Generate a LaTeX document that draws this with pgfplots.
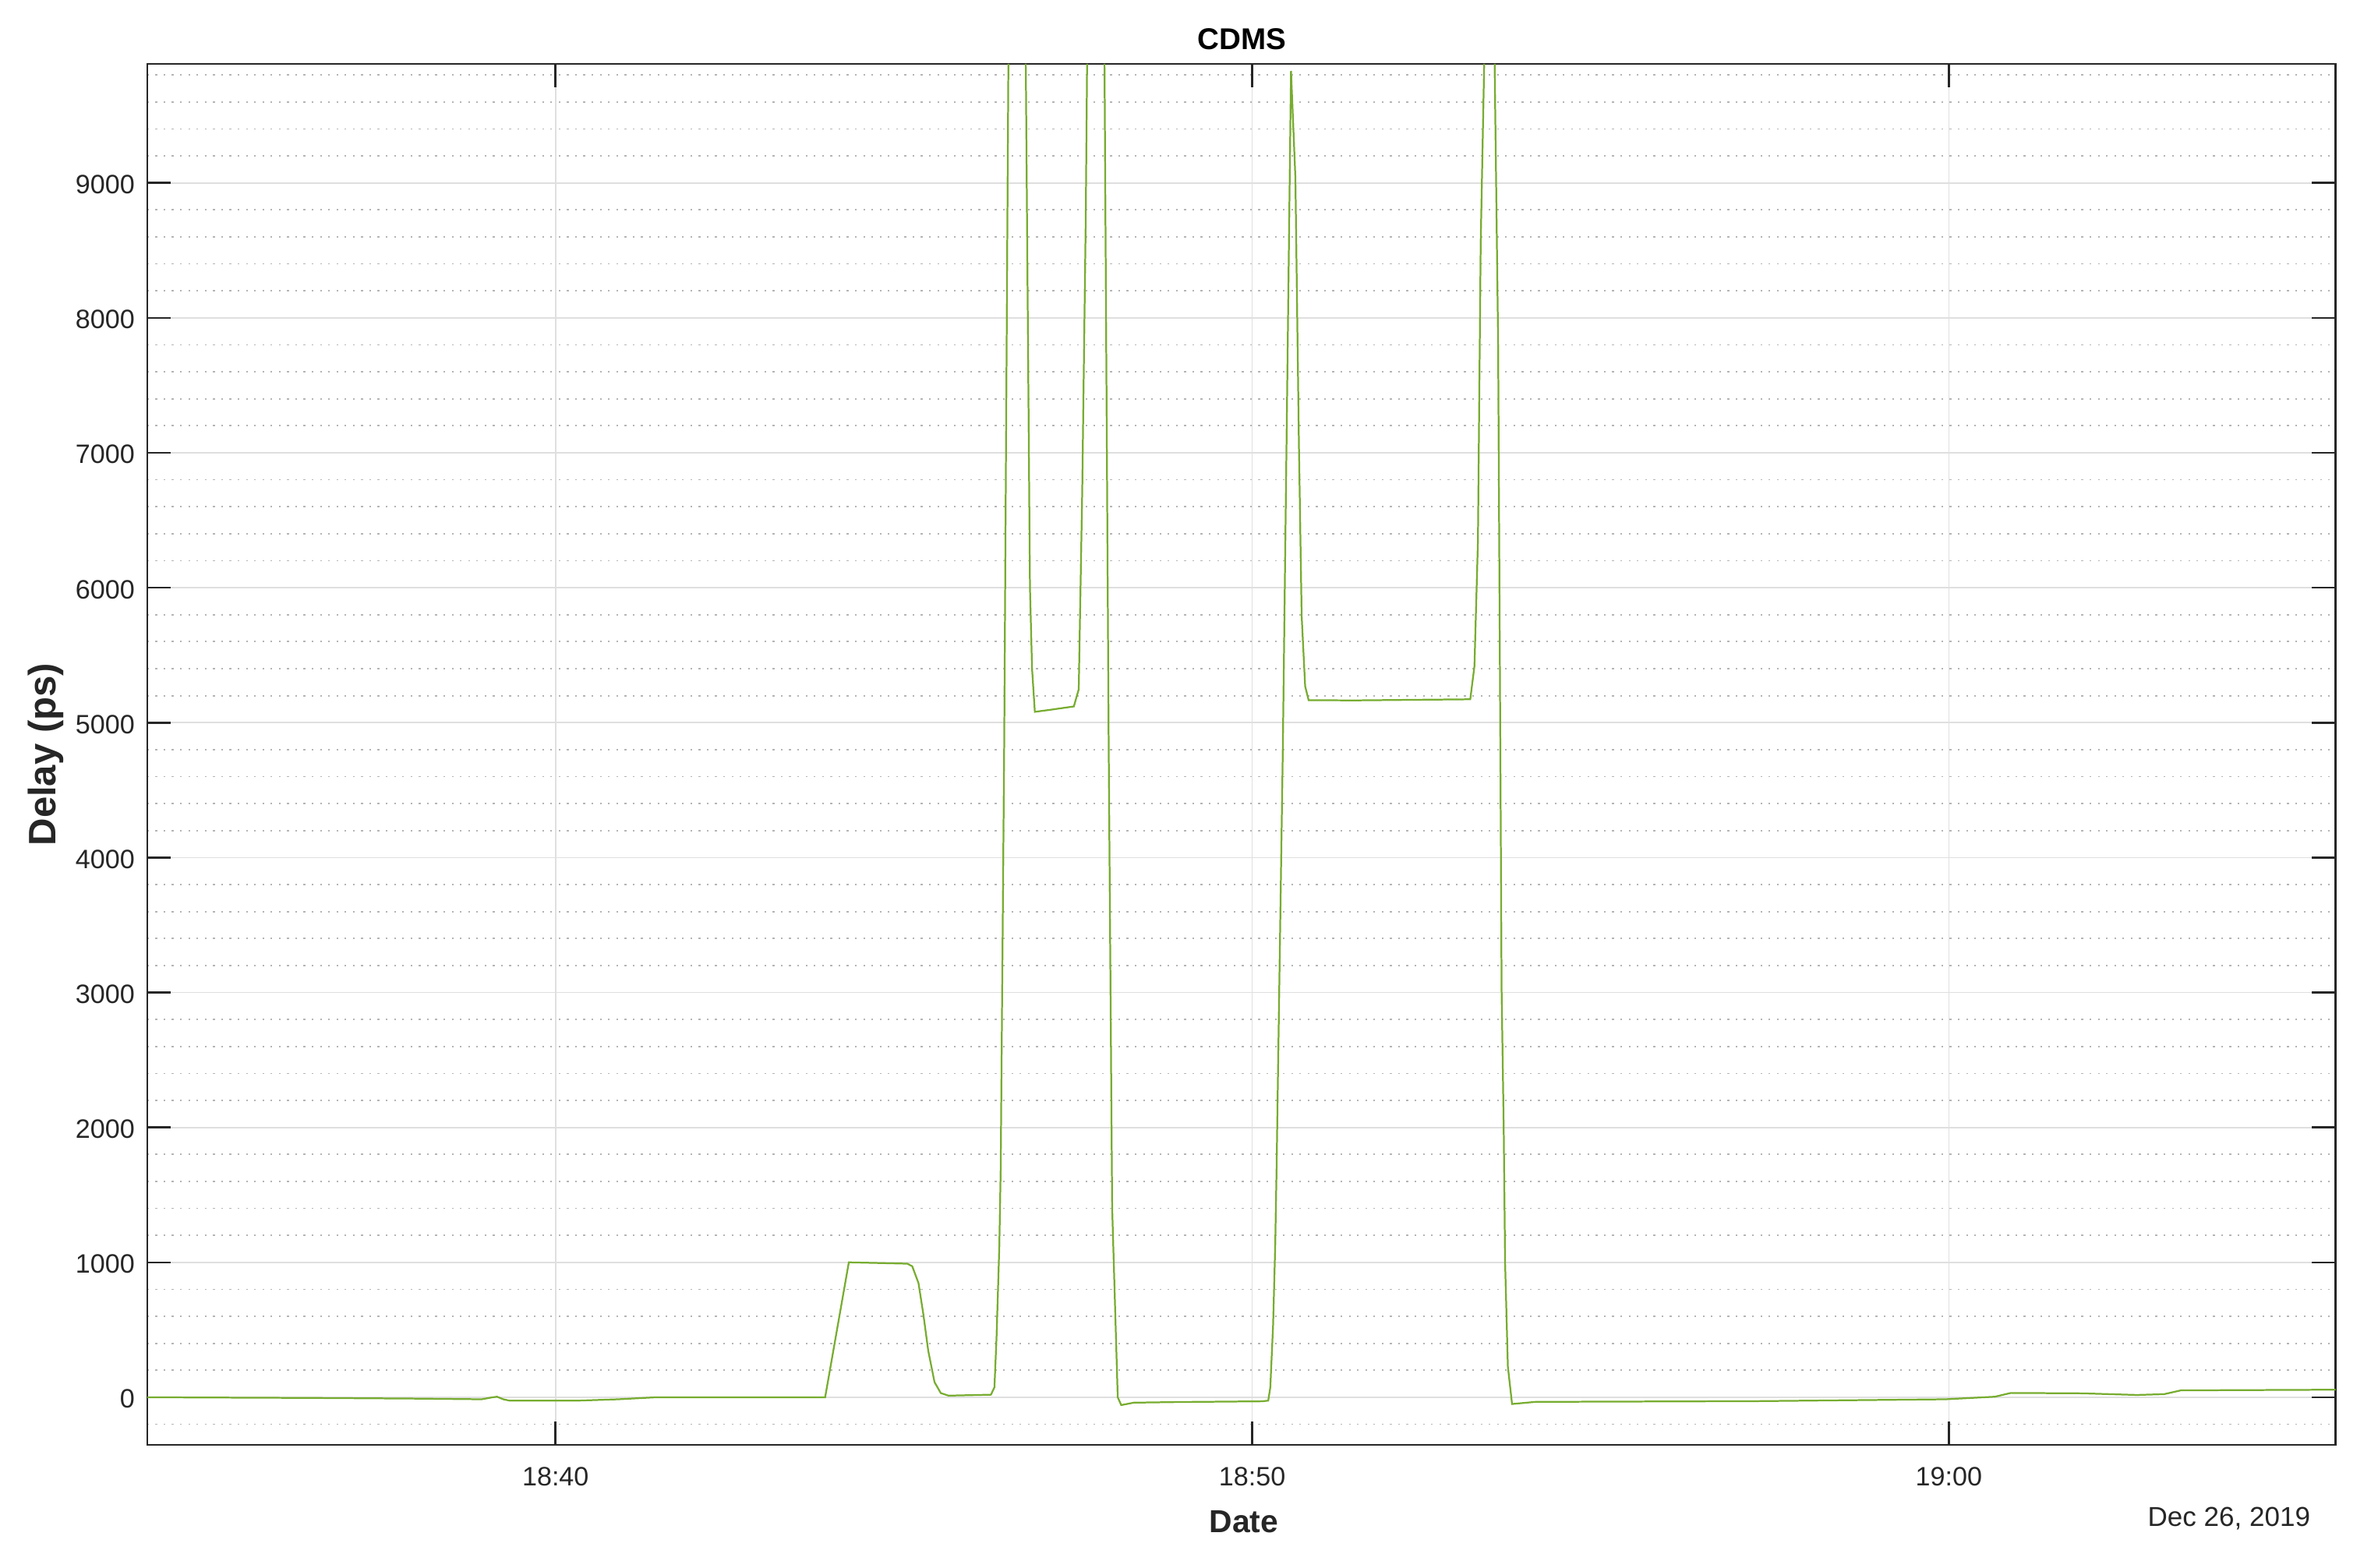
\documentclass[border=0pt]{standalone}
\usepackage{fontspec}
\setmainfont{Liberation Sans}
\usepackage{pgfplots}
\pgfplotsset{compat=1.18}
\definecolor{dline}{RGB}{119,172,48}
\definecolor{axc}{RGB}{38,38,38}
\definecolor{mgrid}{RGB}{223,223,223}
\definecolor{ngrid}{RGB}{180,180,180}
\begin{document}
\begin{tikzpicture}
\path[use as bounding box] (0,0) rectangle (953.44bp,628.44bp);
\begin{axis}[
  at={(59bp,49bp)}, anchor=south west,
  width=877.4bp, height=553.8bp, scale only axis,
  xmin=34.138, xmax=65.55, ymin=-354, ymax=9882,
  xtick={40,50,60}, xticklabels={18:40,18:50,19:00},
  ytick={0,1000,2000,3000,4000,5000,6000,7000,8000,9000},
  yticklabels={0,1000,2000,3000,4000,5000,6000,7000,8000,9000},
  minor ytick={-200,200,400,600,800,1200,1400,1600,1800,2200,2400,2600,2800,3200,3400,3600,3800,4200,4400,4600,4800,5200,5400,5600,5800,6200,6400,6600,6800,7200,7400,7600,7800,8200,8400,8600,8800,9200,9400,9600,9800},
  /pgf/number format/assume math mode=true,
  grid=both,
  major grid style={draw=mgrid, line width=0.55bp},
  minor grid style={draw=ngrid, line width=0.55bp, dash pattern=on 0.7bp off 2.6bp},
  minor tick length=0pt,
  major tick length=9.5bp,
  tick align=inside,
  xtick pos=both, ytick pos=both,
  axis line style={draw=axc, line width=0.8bp},
  tick style={draw=axc, line width=0.8bp},
  xticklabel style={anchor=base, inner sep=0pt, yshift=-16.4bp, text=axc, font=\fontsize{10.7}{12}\selectfont},
  yticklabel style={anchor=east, inner sep=0pt, xshift=-4.8bp, yshift=-0.7bp, text=axc, font=\fontsize{10.7}{12}\selectfont},
  clip=true,
]
\addplot[color=dline, line width=0.7bp, mark=none] coordinates {
(34.10,0) (35.0,-2) (36.5,-5) (38.0,-10) (38.94,-15) (39.10,0) (39.16,4) (39.25,-15) (39.34,-25)
(40.32,-25) (40.9,-15) (41.45,0) (43.87,0)
(44.21,1000) (45.05,990) (45.12,971) (45.21,846) (45.28,614) (45.35,344) (45.44,112) (45.53,31) (45.64,12)
(46.25,19) (46.30,74) (46.33,440) (46.37,1116) (46.39,1695) (46.44,4822) (46.50,9882) (46.52,11500)
(46.73,11500) (46.75,9882) (46.81,6000) (46.84,5400) (46.88,5080)
(47.10,5095) (47.44,5120) (47.51,5247) (47.56,6709) (47.61,8704) (47.63,9882) (47.645,11500)
(47.865,11500) (47.88,9882) (47.94,4822) (47.99,1400) (48.07,0) (48.12,-58)
(48.3,-40) (49.0,-35) (50.14,-30) (50.23,-25) (50.26,73) (50.30,537) (50.33,1116) (50.35,1695)
(50.44,4822) (50.50,7375) (50.557,9830) (50.62,9037) (50.67,7080) (50.71,5790) (50.76,5269) (50.81,5166)
(51.5,5165) (52.5,5170) (53.13,5173) (53.19,5418) (53.24,6340) (53.28,8556) (53.33,9882) (53.345,11500)
(53.465,11500) (53.48,9882) (53.53,7818) (53.565,4500) (53.58,3018) (53.61,2004) (53.63,1000) (53.67,226)
(53.73,-50) (54.07,-34) (57.21,-29) (59.95,-15) (60.66,4) (60.89,32) (61.92,29) (62.70,17) (63.09,23)
(63.33,51) (65.60,56)
};
\end{axis}
\node[anchor=base, inner sep=0pt, font=\fontsize{12.1}{14}\selectfont\bfseries] at (498.0bp,608.6bp) {CDMS};
\node[anchor=base, inner sep=0pt, text=axc, font=\fontsize{12.8}{15}\selectfont\bfseries] at (498.75bp,13.84bp) {Date};
\node[anchor=base, rotate=90, inner sep=0pt, text=axc, font=\fontsize{15.4}{18}\selectfont\bfseries] at (22.4bp,325.9bp) {Delay (ps)};
\node[anchor=base east, inner sep=0pt, text=axc, font=\fontsize{11.0}{13}\selectfont] at (926.5bp,16.5bp) {Dec 26, 2019};
\end{tikzpicture}
\end{document}
